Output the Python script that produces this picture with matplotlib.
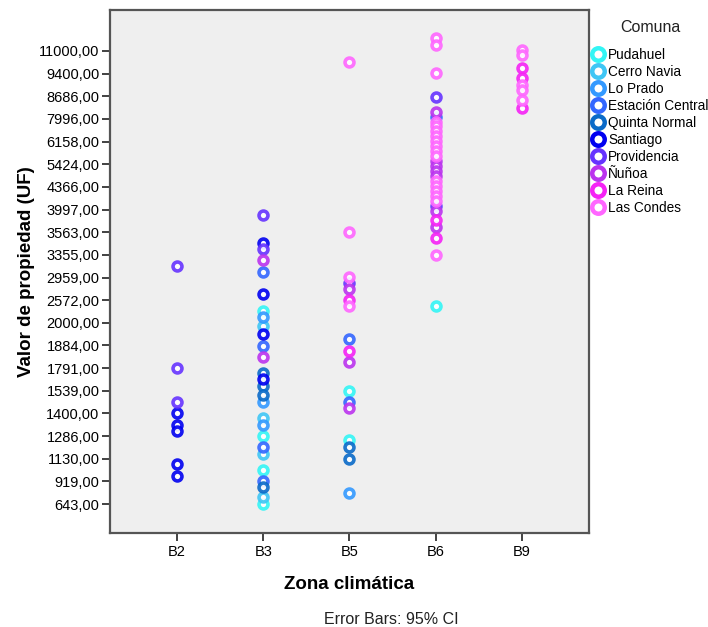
import numpy as np
import matplotlib
matplotlib.use("Agg")
import matplotlib.pyplot as plt
from matplotlib.lines import Line2D

plt.rcParams['font.family'] = ['Liberation Sans', 'DejaVu Sans']

zonas = ["B2", "B3", "B5", "B6", "B9"]
comunas = ["Pudahuel", "Cerro Navia", "Lo Prado", "Estación Central", "Quinta Normal",
           "Santiago", "Providencia", "Ñuñoa", "La Reina", "Las Condes"]
colores = ["#33F5F5", "#3FC6F5", "#3399FF", "#3366FF", "#0A6AC8",
           "#0000F0", "#6633FF", "#BB33EE", "#F522F5", "#FF66FF"]

ytick_vals = [643, 919, 1130, 1286, 1400, 1539, 1791, 1884, 2000, 2572, 2959,
              3355, 3563, 3997, 4366, 5424, 6158, 7996, 8686, 9400, 11000]

# values (UF) and comuna per zone
b2_val = [3161, 1791, 1468, 1400, 1344, 1310, 1084, 970]
b2_com = ["Providencia", "Providencia", "Providencia", "Santiago", "Santiago",
          "Santiago", "Santiago", "Santiago"]

b3_val = [3888, 3467, 3411, 3260, 3054, 2673, 2297, 2154, 1984, 1943, 1883, 1837,
          1733, 1667, 1592, 1510, 1470, 1375, 1344, 1286, 1208, 1164, 1027, 925,
          847, 723, 637]
b3_com = ["Providencia", "Santiago", "Providencia", "Ñuñoa", "Estación Central",
          "Santiago", "Pudahuel", "Lo Prado", "Cerro Navia", "Santiago",
          "Estación Central", "Ñuñoa", "Quinta Normal", "Santiago", "Quinta Normal",
          "Quinta Normal", "Lo Prado", "Cerro Navia", "Lo Prado", "Pudahuel",
          "Estación Central", "Cerro Navia", "Pudahuel", "Estación Central",
          "Quinta Normal", "Cerro Navia", "Pudahuel"]

b5_val = [10200, 3565, 2975, 2858, 2762, 2572, 2423, 1915, 1863, 1815, 1539, 1472,
          1435, 1259, 1208, 1128, 781]
b5_com = ["Las Condes", "Las Condes", "Las Condes", "Providencia", "Ñuñoa",
          "La Reina", "Las Condes", "Estación Central", "La Reina", "Ñuñoa",
          "Pudahuel", "Estación Central", "Ñuñoa", "Pudahuel", "Quinta Normal",
          "Quinta Normal", "Lo Prado"]

b6_val = [11900, 11420, 9464, 8672, 8217, 8065, 7775, 7426, 7022, 6618, 6213, 6019,
          5850, 5688, 5527, 5339, 5107, 4874, 4641, 4408, 4300, 4218, 4137, 4056,
          3971, 3797, 3667, 3507, 3351, 2423]
b6_com = ["Las Condes", "Las Condes", "Las Condes", "Providencia", "Ñuñoa",
          "Estación Central", "Las Condes", "Las Condes", "Las Condes", "Las Condes",
          "Las Condes", "Las Condes", "Las Condes", "Las Condes", "Ñuñoa", "Ñuñoa",
          "Ñuñoa", "Ñuñoa", "Las Condes", "Las Condes", "Las Condes", "Las Condes",
          "Las Condes", "Providencia", "Ñuñoa", "La Reina", "Ñuñoa", "La Reina",
          "Las Condes", "Pudahuel"]

b9_val = [11064, 10712, 9784, 9257, 9043, 8886, 8576, 8320]
b9_com = ["Las Condes", "Las Condes", "La Reina", "La Reina", "Las Condes",
          "Las Condes", "Las Condes", "La Reina"]

zone_vals = [b2_val, b3_val, b5_val, b6_val, b9_val]
zone_coms = [b2_com, b3_com, b5_com, b6_com, b9_com]

# ordinal-like axis: labelled values evenly spaced
ext_vals = np.array([643 - 3 * 276] + ytick_vals + [11000 + 3 * 1600], dtype=float)
ext_idx = np.array([-3] + list(range(len(ytick_vals))) + [len(ytick_vals) + 2], dtype=float)

def fwd(v):
    return np.interp(v, ext_vals, ext_idx)

def inv(i):
    return np.interp(i, ext_idx, ext_vals)

fig = plt.figure(figsize=(7.08, 6.27), dpi=100)
ax = fig.add_axes([110 / 708, 1 - 533 / 627, 479 / 708, 523 / 627])
ax.set_yscale('function', functions=(fwd, inv))
ax.set_facecolor('#EFEFEF')

color_map = dict(zip(comunas, colores))
for com in comunas:
    xs, ys = [], []
    for zi, (vals, coms) in enumerate(zip(zone_vals, zone_coms)):
        for v, c in zip(vals, coms):
            if c == com:
                xs.append(zi)
                ys.append(v)
    ax.plot(xs, ys, linestyle='none', marker='o', markersize=6.4,
            markerfacecolor='white', markeredgecolor=color_map[com],
            markeredgewidth=2.6, alpha=0.9)

ax.set_xlim(-0.775, 4.775)
ax.set_ylim(inv(-1.28), inv(21.81))
ax.set_xticks(range(len(zonas)))
ax.set_xticklabels(zonas, fontsize=10.5)
ax.set_yticks(ytick_vals)
ax.set_yticklabels([f"{v},00" for v in ytick_vals], fontsize=10.5)
ax.minorticks_off()
ax.tick_params(axis='both', direction='out', length=6, width=1.3, color='#333333',
               pad=1.5)
ax.tick_params(axis='x', pad=3)
for s in ax.spines.values():
    s.set_color('#555555')
    s.set_linewidth(1.6)

ax.set_xlabel("Zona climática", fontsize=13.5, fontweight='bold', labelpad=12)
ax.set_ylabel("Valor de propiedad (UF)", fontsize=13.5, fontweight='bold', labelpad=3)
fig.text(391 / 708, 1 - 620 / 627, "Error Bars: 95% CI", ha='center', va='center',
         fontsize=11.5, color='#222222')

handles = [Line2D([], [], linestyle='none', marker='o', markersize=9,
                  markerfacecolor='white', markeredgecolor=c, markeredgewidth=3.2)
           for c in colores]
leg = fig.legend(handles, comunas, loc='upper left',
                 bbox_to_anchor=(591 / 708, 1 - 48 / 627), frameon=False,
                 fontsize=9.8, handletextpad=0.15, handlelength=1.1,
                 labelspacing=0.22, borderaxespad=0, borderpad=0)
fig.text(650 / 708, 1 - 28 / 627, "Comuna", ha='center', va='center',
         fontsize=11.5, color='#222222')

fig.savefig("out.png", dpi=100)
